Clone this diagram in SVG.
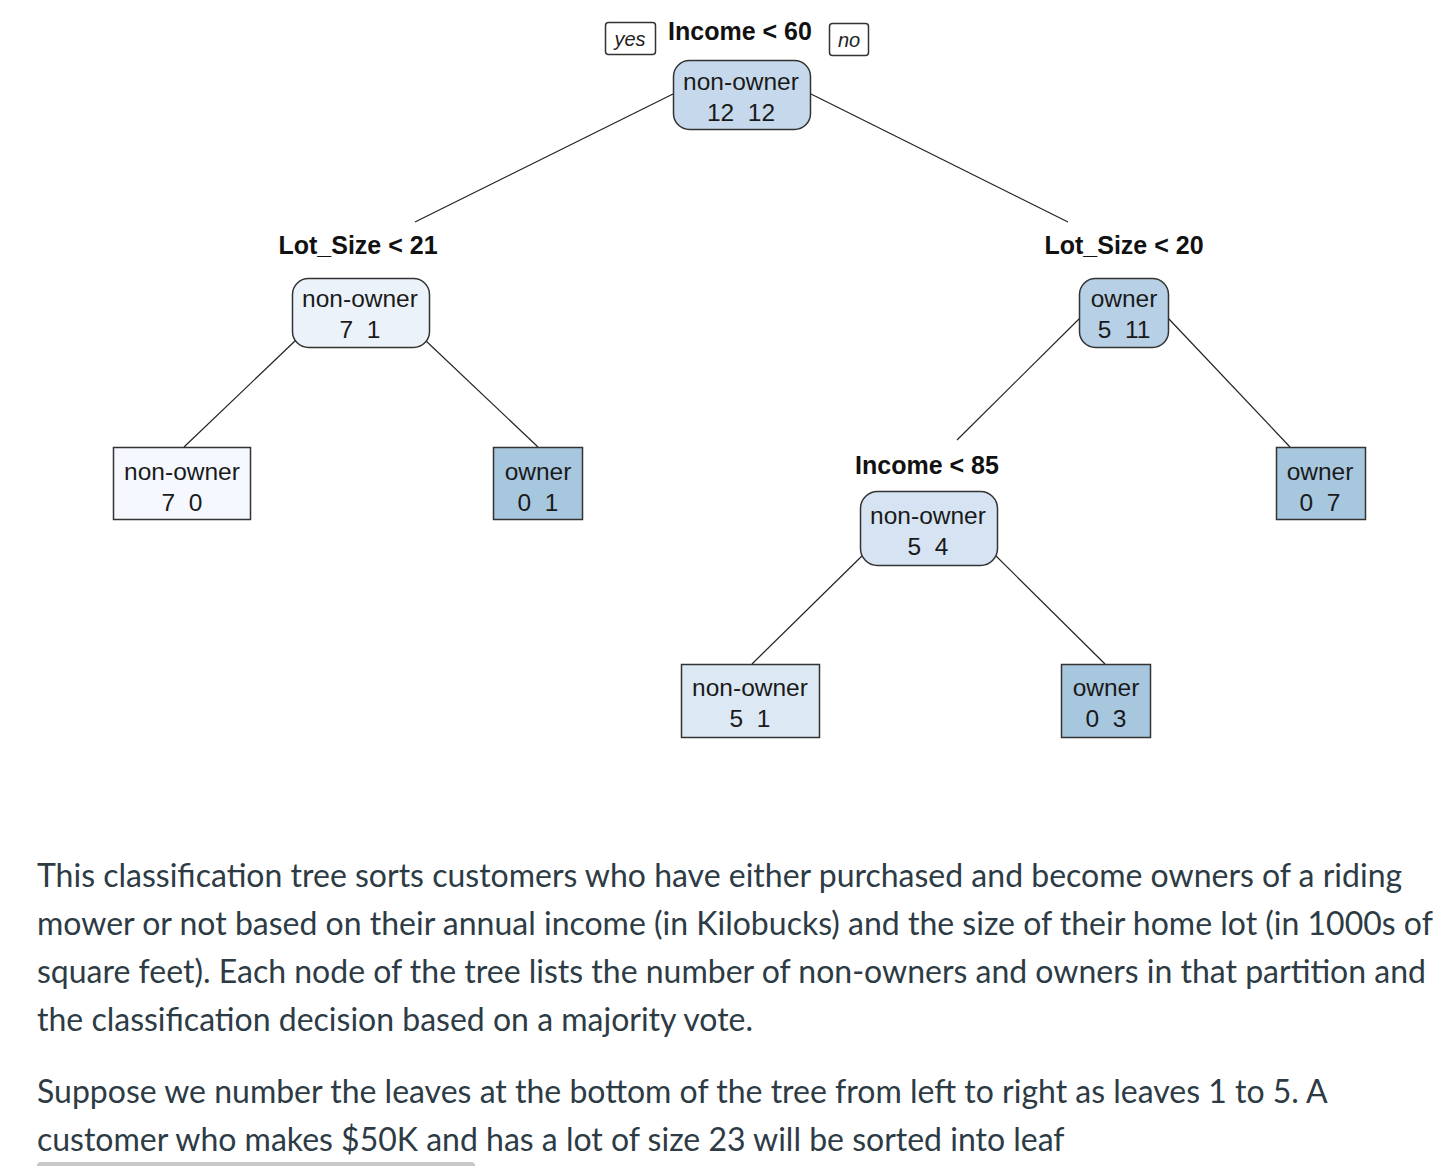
<svg xmlns="http://www.w3.org/2000/svg" width="1450" height="1166" viewBox="0 0 1450 1166">
<style>
.nt{font-family:"Liberation Sans",Arial,sans-serif;font-size:24.5px;fill:#1a1a1a;text-anchor:middle;white-space:pre}
.sp{font-family:"Liberation Sans",Arial,sans-serif;font-size:25px;font-weight:bold;fill:#111;text-anchor:middle}
.yn{font-family:"Liberation Sans",Arial,sans-serif;font-size:20px;font-style:italic;fill:#222;text-anchor:middle}
.box{stroke:#333;stroke-width:1.5}
.conn line{stroke:#222;stroke-width:1.2}
.para{font-family:Lato,"Open Sans",sans-serif;font-size:32px;fill:#2d3b45}
</style>
<rect width="1450" height="1166" fill="#fff"/>
<g class="conn">
<line x1="673" y1="94" x2="415" y2="222"/>
<line x1="811" y1="94" x2="1068" y2="222"/>
<line x1="296" y1="340" x2="184" y2="447"/>
<line x1="425" y1="340" x2="538" y2="447"/>
<line x1="1080" y1="318" x2="957" y2="440"/>
<line x1="1168" y1="318" x2="1290" y2="447"/>
<line x1="865" y1="553" x2="752" y2="664"/>
<line x1="993" y1="553" x2="1105" y2="664"/>
</g>
<g id="root">
<rect class="box" x="605.5" y="22.5" width="50" height="32" rx="3" fill="#fff" stroke-width="1.2"/>
<text class="yn" x="630" y="46">yes</text>
<rect class="box" x="829.5" y="23.5" width="39" height="32" rx="3" fill="#fff" stroke-width="1.2"/>
<text class="yn" x="849" y="47">no</text>
<text class="sp" x="740" y="40">Income &lt; 60</text>
<rect class="box" x="673.5" y="60.5" width="137" height="69" rx="16" fill="#C6D9EC"/>
<text class="nt" x="741" y="90">non-owner</text>
<text class="nt" x="741" y="121">12  12</text>
</g>
<g id="n2">
<text class="sp" x="358" y="254">Lot_Size &lt; 21</text>
<rect class="box" x="292.5" y="278.5" width="137" height="69" rx="16" fill="#EBF2FA"/>
<text class="nt" x="360" y="307">non-owner</text>
<text class="nt" x="360" y="338">7  1</text>
</g>
<g id="leaf1">
<rect class="box" x="113.5" y="447.5" width="137" height="72" fill="#F5F9FF"/>
<text class="nt" x="182" y="480">non-owner</text>
<text class="nt" x="182" y="511">7  0</text>
</g>
<g id="leaf2">
<rect class="box" x="493.5" y="447.5" width="89" height="72" fill="#A7C7DF"/>
<text class="nt" x="538" y="480">owner</text>
<text class="nt" x="538" y="511">0  1</text>
</g>
<g id="n3">
<text class="sp" x="1124" y="254">Lot_Size &lt; 20</text>
<rect class="box" x="1079.5" y="278.5" width="89" height="69" rx="16" fill="#B7D0E6"/>
<text class="nt" x="1124" y="307">owner</text>
<text class="nt" x="1124" y="338">5  11</text>
</g>
<g id="n6">
<text class="sp" x="927" y="474">Income &lt; 85</text>
<rect class="box" x="860.5" y="491.5" width="137" height="74" rx="17" fill="#D5E3F2"/>
<text class="nt" x="928" y="524">non-owner</text>
<text class="nt" x="928" y="555">5  4</text>
</g>
<g id="leaf3">
<rect class="box" x="681.5" y="664.5" width="138" height="73" fill="#DCE8F4"/>
<text class="nt" x="750" y="696">non-owner</text>
<text class="nt" x="750" y="727">5  1</text>
</g>
<g id="leaf4">
<rect class="box" x="1061.5" y="664.5" width="89" height="73" fill="#A7C7DF"/>
<text class="nt" x="1106" y="696">owner</text>
<text class="nt" x="1106" y="727">0  3</text>
</g>
<g id="leaf5">
<rect class="box" x="1276.5" y="447.5" width="89" height="72" fill="#A7C7DF"/>
<text class="nt" x="1320" y="480">owner</text>
<text class="nt" x="1320" y="511">0  7</text>
</g>
<g id="text">
<text class="para" x="37" y="887">This classification tree sorts customers who have either purchased and become owners of a riding</text>
<text class="para" x="37" y="935">mower or not based on their annual income (in Kilobucks) and the size of their home lot (in 1000s of</text>
<text class="para" x="37" y="983">square feet). Each node of the tree lists the number of non-owners and owners in that partition and</text>
<text class="para" x="37" y="1031">the classification decision based on a majority vote.</text>
<text class="para" x="37" y="1103">Suppose we number the leaves at the bottom of the tree from left to right as leaves 1 to 5. A</text>
<text class="para" x="37" y="1151">customer who makes $50K and has a lot of size 23 will be sorted into leaf</text>
<rect x="37" y="1162" width="438" height="8" rx="4" fill="#c8c8c8"/>
</g>
</svg>
